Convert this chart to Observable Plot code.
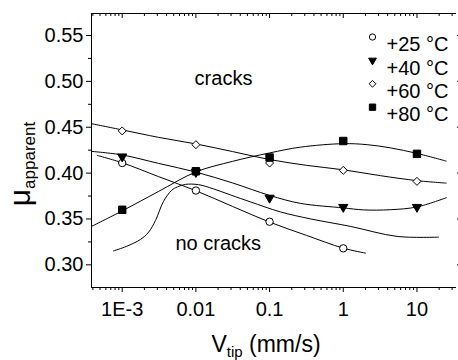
<!DOCTYPE html>
<html>
<head>
<meta charset="utf-8">
<script src="https://cdn.jsdelivr.net/npm/d3@7"></script>
<script src="https://cdn.jsdelivr.net/npm/@observablehq/plot@0.6"></script>
<style>
  html, body { margin: 0; padding: 0; background: #fff; }
  #chart { width: 458px; height: 360px; }
</style>
</head>
<body>
<div id="chart"></div>
<script>
// ---- data ----
const seriesNames = ["+25 °C", "+40 °C", "+60 °C", "+80 °C"];
const speeds = [0.001, 0.01, 0.1, 1, 10];
const mu25 = [0.411, 0.381, 0.347, 0.318];
const mu40 = [0.418, 0.401, 0.373, 0.363, 0.363];
const mu60 = [0.446, 0.431, 0.411, 0.403, 0.391];
const mu80 = [0.360, 0.402, 0.417, 0.435, 0.421];

// fitted curves (speed, mu)
const fit25x = [0.000458, 0.001, 0.00311, 0.01, 0.0314, 0.1, 0.317, 1, 2.0];
const fit25y = [0.4193, 0.4113, 0.3962, 0.3808, 0.3637, 0.3466, 0.3321, 0.3182, 0.3128];
const fit40x = [0.000383, 0.001, 0.00311, 0.01, 0.0314, 0.1, 0.2626, 1, 1.88, 4.37, 10, 25.1];
const fit40y = [0.4237, 0.4198, 0.4106, 0.4011, 0.3893, 0.3757, 0.367, 0.3621, 0.3599, 0.3601, 0.3631, 0.3732];
const fit60x = [0.000383, 0.001, 0.00311, 0.01, 0.0314, 0.1, 0.317, 1, 3.2, 10, 24.9];
const fit60y = [0.4539, 0.4471, 0.439, 0.4318, 0.4235, 0.4148, 0.4085, 0.4036, 0.3972, 0.3918, 0.3891];
const fit80x = [0.000383, 0.001, 0.00311, 0.01, 0.0314, 0.1, 0.2626, 1, 2.11, 4.37, 10, 24.9];
const fit80y = [0.3419, 0.3588, 0.38, 0.4013, 0.4128, 0.422, 0.4283, 0.4321, 0.431, 0.4275, 0.4215, 0.4131];
// boundary curve between "cracks" and "no cracks"
const edgeX = [0.000762, 0.00114, 0.00177, 0.00228, 0.00283, 0.00363, 0.00467, 0.00562, 0.00722, 0.01084, 0.01733, 0.0295, 0.0551, 0.1406, 0.359, 1.253, 5.38, 19.6];
const edgeY = [0.3152, 0.3201, 0.3277, 0.3356, 0.3484, 0.3691, 0.3811, 0.385, 0.3877, 0.3874, 0.3828, 0.3762, 0.3686, 0.3577, 0.3501, 0.3419, 0.331, 0.3302];

const xTicks = [0.001, 0.01, 0.1, 1, 10];
const xTickLabels = ["1E-3", "0.01", "0.1", "1", "10"];
const yTicks = [0.30, 0.35, 0.40, 0.45, 0.50, 0.55];
const yTickLabels = ["0.30", "0.35", "0.40", "0.45", "0.50", "0.55"];
const yMinorTicks = [0.325, 0.375, 0.425, 0.475, 0.525];

const annotations = [
  {text: "cracks", x: 0.0237, y: 0.5032},
  {text: "no cracks", x: 0.0201, y: 0.3233}
];

// ---- build tables ----
const symbols = ["circle", "triangle", "diamond2", "square"];
const fills = ["white", "black", "white", "black"];
const rotates = [0, 180, 0, 0];
const radii = [3.7, 3.4, 3.6, 4.2];
const muLists = [mu25, mu40, mu60, mu80];
const fitX = [fit25x, fit40x, fit60x, fit80x];
const fitY = [fit25y, fit40y, fit60y, fit80y];

const xDomain = [0.000383, 34.4];
const yDomain = [0.2753, 0.574];

const minorX = d3.scaleLog().domain(xDomain).ticks().filter(v => !xTicks.some(t => Math.abs(Math.log10(t) - Math.log10(v)) < 1e-6));

const marks = [];
// fitted curves
fitX.forEach((xs, i) => {
  const rows = xs.map((x, j) => ({x, y: fitY[i][j]}));
  marks.push(Plot.line(rows, {x: "x", y: "y", curve: "catmull-rom", stroke: "black", strokeWidth: 1}));
});
marks.push(Plot.line(edgeX.map((x, j) => ({x, y: edgeY[j]})), {x: "x", y: "y", curve: "catmull-rom", stroke: "black", strokeWidth: 1}));

// markers
muLists.forEach((mus, i) => {
  const rows = mus.map((m, j) => ({x: speeds[j], y: m}));
  marks.push(Plot.dot(rows, {x: "x", y: "y", symbol: () => symbols[i], r: radii[i], fill: fills[i], stroke: "black", strokeWidth: 1, rotate: rotates[i]}));
});

// axes lines
marks.push(Plot.ruleX([xDomain[0]], {stroke: "black", strokeWidth: 1}));
marks.push(Plot.ruleY([yDomain[0]], {stroke: "black", strokeWidth: 1}));
marks.push(Plot.ruleY([yDomain[1]], {stroke: "black", strokeWidth: 1}));

// bottom axis
marks.push(Plot.axisX(xTicks, {anchor: "bottom", tickSize: 5, tickPadding: 9, fontSize: 20, label: null,
  tickFormat: d => xTickLabels[xTicks.indexOf(d)]}));
marks.push(Plot.axisX(minorX, {anchor: "bottom", tickSize: 3, fill: "none", label: null}));
// top axis (ticks pointing down into the frame)
marks.push(Plot.axisX(xTicks, {anchor: "bottom", frameAnchor: "top", tickSize: 5, fill: "none", label: null}));
marks.push(Plot.axisX(minorX, {anchor: "bottom", frameAnchor: "top", tickSize: 3, fill: "none", label: null}));
// left axis
marks.push(Plot.axisY(yTicks, {anchor: "left", tickSize: 5, tickPadding: 3, fontSize: 20, label: null,
  tickFormat: d => yTickLabels[yTicks.indexOf(d)]}));
marks.push(Plot.axisY(yMinorTicks, {anchor: "left", tickSize: 3, fill: "none", label: null}));
// right axis
marks.push(Plot.axisY(yTicks, {anchor: "right", tickSize: 3, fill: "none", label: null}));

// annotations
marks.push(Plot.text(annotations, {x: "x", y: "y", text: "text", fontSize: 20, textAnchor: "middle", fill: "black"}));

// legend
seriesNames.forEach((name, i) => {
  const dy = 23.5 + i * 23.4;
  marks.push(Plot.dot([name], {frameAnchor: "top-right", dx: -84, dy, symbol: () => symbols[i], r: radii[i] * 0.85, fill: fills[i], stroke: "black", strokeWidth: 1, rotate: rotates[i]}));
  marks.push(Plot.text([name], {frameAnchor: "top-right", dx: -70, dy, text: d => d, textAnchor: "start", fontSize: 20, fill: "black"}));
});

const chart = Plot.plot({
  width: 458,
  height: 360,
  marginLeft: 91,
  marginRight: 2,
  marginTop: 13,
  marginBottom: 73,
  style: {fontFamily: "'Liberation Sans', Arial, sans-serif", fontSize: "20px", color: "black", background: "white"},
  x: {type: "log", domain: xDomain},
  y: {domain: yDomain},
  marks
});

// axis titles with subscripts
const svg = d3.select(chart);
const xt = svg.append("text")
  .attr("x", 266).attr("y", 352)
  .attr("text-anchor", "middle")
  .attr("font-family", "'Liberation Sans', Arial, sans-serif")
  .attr("font-size", 23).attr("fill", "black");
xt.append("tspan").text("V");
xt.append("tspan").attr("font-size", 15).attr("dy", 5).text("tip");
xt.append("tspan").attr("dy", -5).text(" (mm/s)");

const yt = svg.append("text")
  .attr("transform", "translate(30,164) rotate(-90)")
  .attr("text-anchor", "middle")
  .attr("font-family", "'Liberation Sans', Arial, sans-serif")
  .attr("font-size", 30).attr("fill", "black");
yt.append("tspan").text("μ");
yt.append("tspan").attr("font-size", 17).attr("dy", 5).text("apparent");

document.getElementById("chart").appendChild(chart);
</script>
</body>
</html>
